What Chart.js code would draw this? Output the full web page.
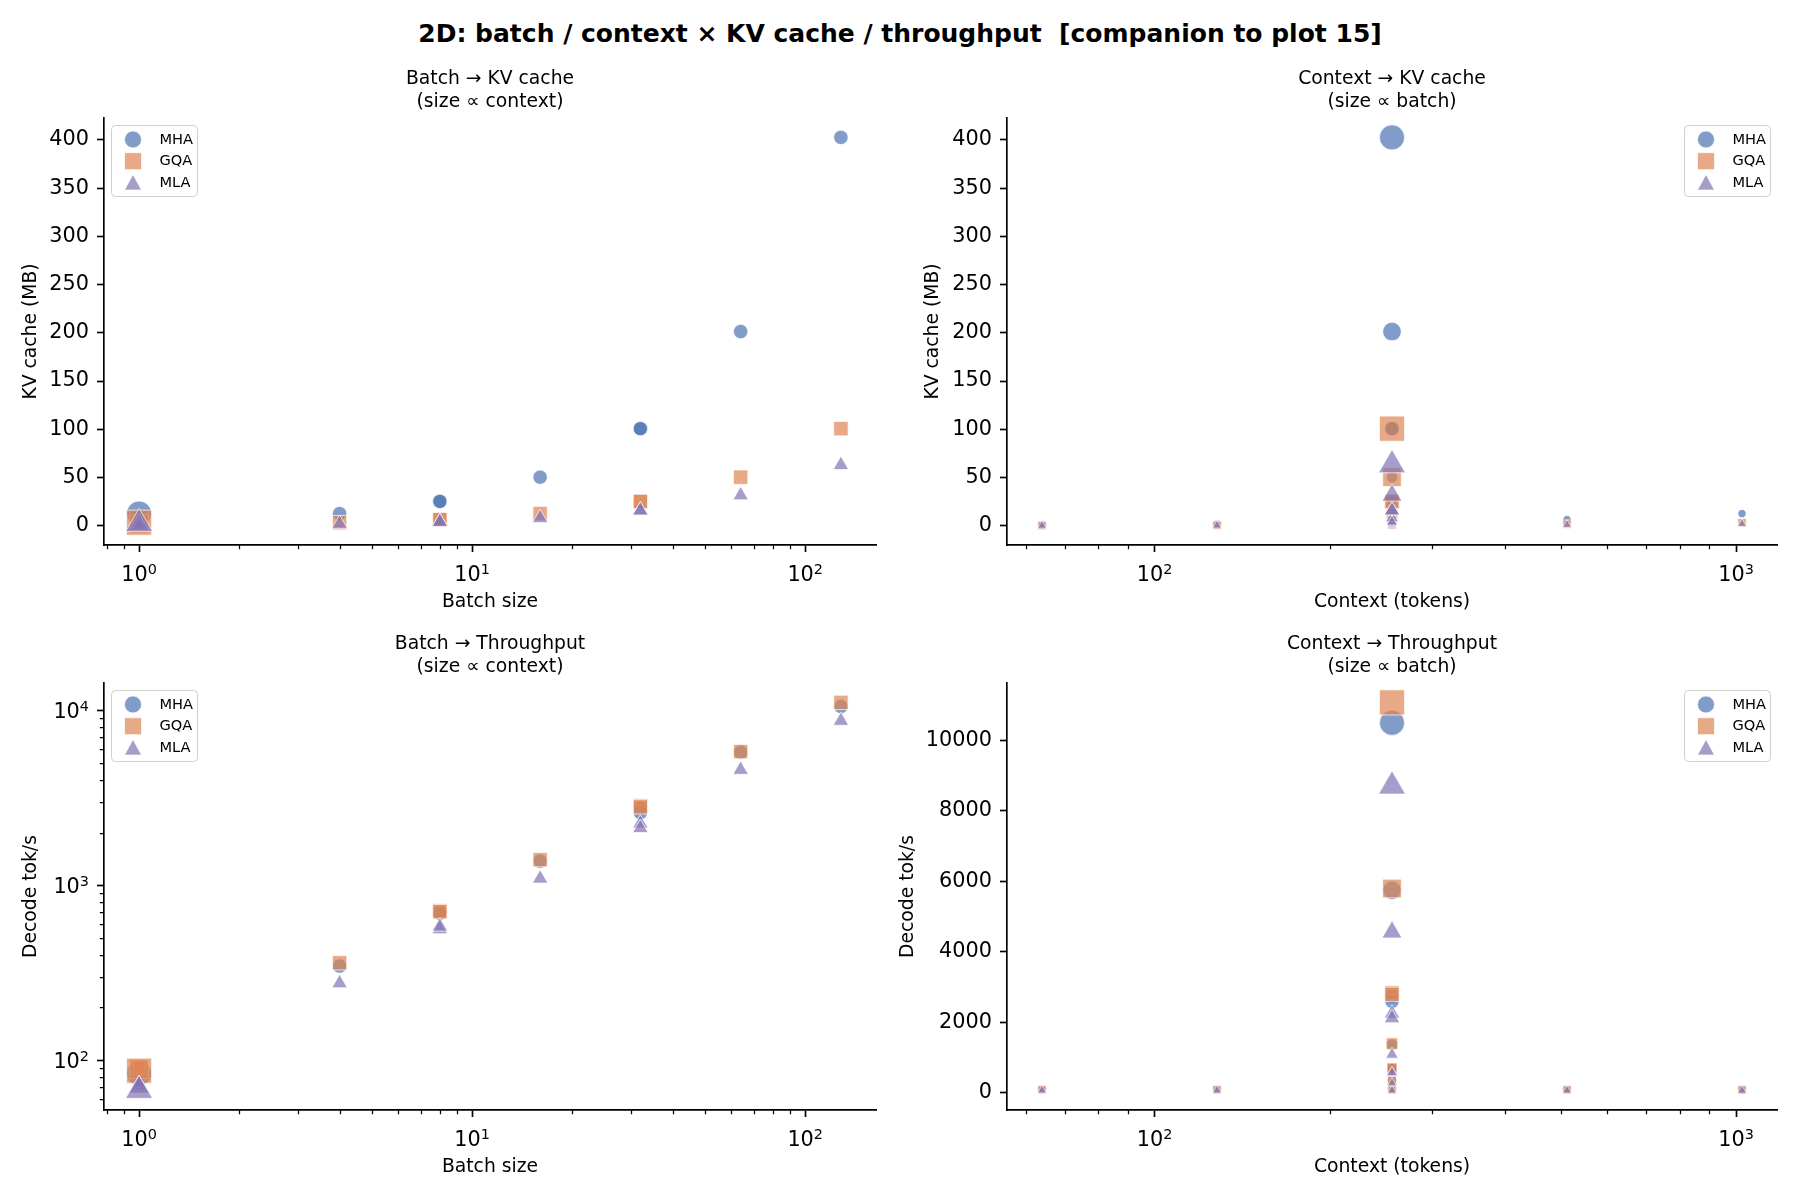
<!DOCTYPE html>
<html>
<head>
<meta charset="utf-8">
<title>2D: batch / context × KV cache / throughput</title>
<script src="https://cdn.jsdelivr.net/npm/chart.js@4.4.1/dist/chart.umd.min.js"></script>
<style>
	html, body { margin: 0; padding: 0; background: #fff; }
	body { width: 1800px; height: 1200px; position: relative; overflow: hidden; font-family: "DejaVu Sans", sans-serif; }
	#suptitle { position: absolute; left: 0; top: 19px; width: 1800px; text-align: center; font-weight: bold; font-size: 25px; line-height: 30px; white-space: pre; color: #000; }
	canvas { position: absolute; }
</style>
</head>
<body>
<div id="suptitle">2D: batch / context × KV cache / throughput  [companion to plot 15]</div>
<canvas id="kvBatch" width="900" height="555" style="left:0;top:60px"></canvas>
<canvas id="kvContext" width="900" height="555" style="left:900px;top:60px"></canvas>
<canvas id="tpBatch" width="900" height="555" style="left:0;top:625px"></canvas>
<canvas id="tpContext" width="920" height="555" style="left:880px;top:625px"></canvas>
<script>
// one run per row: batch sweep at ctx 256, context sweep at batch 1, then two repeat runs
const batchSizes = [1, 4, 8, 16, 32, 64, 128, 1, 1, 1, 1, 8, 32];
const contextLens = [256, 256, 256, 256, 256, 256, 256, 64, 128, 512, 1024, 256, 256];

// KV cache (MB)
const kvMHA = [3.15, 12.58, 25.17, 50.33, 100.66, 201.33, 402.65, 0.79, 1.57, 6.29, 12.58, 25.17, 100.66];
const kvGQA = [0.79, 3.15, 6.29, 12.58, 25.17, 50.33, 100.66, 0.2, 0.39, 1.57, 3.15, 6.29, 25.17];
const kvMLA = [0.49, 1.97, 3.93, 7.86, 15.73, 31.46, 62.91, 0.12, 0.25, 0.98, 1.97, 3.93, 15.73];

// decode throughput (tok/s)
const tpMHA = [88, 345, 700, 1370, 2750, 5750, 10500, 90, 89, 86, 84, 690, 2600];
const tpGQA = [90, 360, 715, 1400, 2840, 5800, 11080, 92, 91, 89, 87, 705, 2800];
const tpMLA = [72, 275, 560, 1090, 2250, 4560, 8700, 74, 73, 70, 67, 580, 2120];

const kvTicks = [0, 50, 100, 150, 200, 250, 300, 350, 400];
const tpLinTicks = [0, 2000, 4000, 6000, 8000, 10000];
const decadeTicks = [1, 10, 100, 1000, 10000];

const FONT = "DejaVu Sans";
const AXIS = "#000";

Chart.defaults.font.family = FONT;
Chart.defaults.color = "#000";

const variants = [
	{ label: "MHA", kv: kvMHA, tp: tpMHA, rgb: "76,114,176", style: "circle", order: 2 },
	{ label: "GQA", kv: kvGQA, tp: tpGQA, rgb: "221,132,82", style: "rect", order: 1 },
	{ label: "MLA", kv: kvMLA, tp: tpMLA, rgb: "129,114,179", style: "triangle", order: 0 },
];

const SUP = "⁰¹²³⁴⁵⁶⁷⁸⁹";
function powLabel(v) {
	const e = Math.round(Math.log10(v));
	return "10" + String(e).split("").map((c) => SUP[+c]).join("");
}

// matplotlib-like 5% margins
function padLinear(vals) {
	const lo = Math.min(...vals), hi = Math.max(...vals);
	const m = (hi - lo) * 0.05;
	return [lo - m, hi + m];
}
function padLog(vals) {
	const lo = Math.log10(Math.min(...vals)), hi = Math.log10(Math.max(...vals));
	const m = (hi - lo) * 0.05;
	return [Math.pow(10, lo - m), Math.pow(10, hi + m)];
}

// marker area s (pt^2) grows with the sizing variable, like the scatter's s=
function markerDiameter(v, vmax) {
	const s = 15 + 130 * v / vmax;
	return Math.sqrt(s) * 150 / 72;
}
function radiusFor(style, d) {
	if (style === "rect") return d / Math.SQRT2;
	if (style === "triangle") return d * 0.62;
	return d / 2;
}

function drawMarker(ctx, style, x, y, d, fill, stroke) {
	ctx.beginPath();
	if (style === "circle") {
		ctx.arc(x, y, d / 2, 0, Math.PI * 2);
	} else if (style === "rect") {
		ctx.rect(x - d / 2, y - d / 2, d, d);
	} else {
		ctx.moveTo(x, y - d / 2);
		ctx.lineTo(x + d / 2, y + d * 0.42);
		ctx.lineTo(x - d / 2, y + d * 0.42);
		ctx.closePath();
	}
	ctx.fillStyle = fill;
	ctx.fill();
	ctx.strokeStyle = stroke;
	ctx.lineWidth = 1;
	ctx.stroke();
}

const cornerLegend = {
	id: "cornerLegend",
	afterDatasetsDraw(chart, args, opts) {
		const { ctx, chartArea } = chart;
		const w = 86, h = 71;
		const x0 = opts.side === "right" ? chartArea.right - 7 - w : chartArea.left + 7;
		const y0 = chartArea.top + 7;
		ctx.save();
		ctx.beginPath();
		ctx.roundRect(x0 + 0.5, y0 + 0.5, w, h, 4);
		ctx.fillStyle = "rgba(255,255,255,0.8)";
		ctx.fill();
		ctx.strokeStyle = "#d0d0d0";
		ctx.lineWidth = 1;
		ctx.stroke();
		ctx.font = `14.6px "${FONT}"`;
		ctx.textBaseline = "middle";
		ctx.textAlign = "left";
		variants.forEach((v, i) => {
			const cy = y0 + 14.5 + i * 21.7;
			drawMarker(ctx, v.style, x0 + 22, cy, 17, `rgba(${v.rgb},0.7)`, "rgba(255,255,255,0.7)");
			ctx.fillStyle = "#000";
			ctx.fillText(v.label, x0 + 48.5, cy + 0.5);
		});
		ctx.restore();
	},
};

// minor ticks and mathtext-style 10^n labels for log axes
const logAxisDecor = {
	id: "logAxisDecor",
	afterDraw(chart) {
		const ctx = chart.ctx;
		ctx.save();
		ctx.strokeStyle = AXIS;
		ctx.lineWidth = 1.25;
		ctx.beginPath();
		Object.values(chart.scales).forEach((scale) => {
			if (scale.type !== "logarithmic") return;
			const lo = Math.floor(Math.log10(scale.min));
			const hi = Math.ceil(Math.log10(scale.max));
			for (let e = lo; e <= hi; e++) {
				for (let k = 2; k <= 9; k++) {
					const v = k * Math.pow(10, e);
					if (v < scale.min || v > scale.max) continue;
					const p = Math.round(scale.getPixelForValue(v)) + 0.5;
					if (scale.isHorizontal()) {
						ctx.moveTo(p, scale.top);
						ctx.lineTo(p, scale.top + 4.2);
					} else {
						ctx.moveTo(scale.right, p);
						ctx.lineTo(scale.right - 4.2, p);
					}
				}
			}
		});
		ctx.stroke();

		ctx.fillStyle = "#000";
		ctx.textBaseline = "alphabetic";
		ctx.textAlign = "left";
		const big = `20.8px "${FONT}"`, small = `14.4px "${FONT}"`;
		Object.values(chart.scales).forEach((scale) => {
			if (scale.type !== "logarithmic") return;
			scale.ticks.forEach((t) => {
				const exp = String(Math.round(Math.log10(t.value)));
				ctx.font = big;
				const wBase = ctx.measureText("10").width;
				ctx.font = small;
				const wExp = ctx.measureText(exp).width;
				const total = wBase + wExp;
				const p = scale.getPixelForValue(t.value);
				let x, base;
				if (scale.isHorizontal()) {
					x = p - total / 2;
					base = scale.top + 36;
				} else {
					x = scale.right - 15 - total;
					base = p + 7.5;
				}
				ctx.font = big;
				ctx.fillText("10", x, base);
				ctx.font = small;
				ctx.fillText(exp, x + wBase, base - 7);
			});
		});
		ctx.restore();
	},
};

function axisCommon() {
	return {
		grid: { display: true, drawOnChartArea: false, drawTicks: true, tickLength: 7, tickWidth: 1.67, tickColor: AXIS },
		border: { display: true, color: AXIS, width: 1.67 },
	};
}

function makePanel(id, cfg) {
	const xVals = cfg.xKey === "batch" ? batchSizes : contextLens;
	const sVals = cfg.sizeKey === "batch" ? batchSizes : contextLens;
	const sMax = Math.max(...sVals);
	const allY = [].concat(...variants.map((v) => v[cfg.yKey]));
	const [xMin, xMax] = padLog(xVals);
	const [yMin, yMax] = cfg.yLog ? padLog(allY) : padLinear(allY);

	const datasets = variants.map((v) => ({
		label: v.label,
		order: v.order,
		data: xVals.map((x, i) => ({ x, y: v[cfg.yKey][i], s: sVals[i] })),
		pointStyle: v.style,
		pointRadius: (c) => radiusFor(v.style, markerDiameter(c.raw.s, sMax)),
		pointBackgroundColor: `rgba(${v.rgb},0.7)`,
		pointBorderColor: "rgba(255,255,255,0.7)",
		pointBorderWidth: 1,
	}));

	const xTickVals = decadeTicks.filter((t) => t >= xMin && t <= xMax);
	const yTickVals = cfg.yLog ? decadeTicks.filter((t) => t >= yMin && t <= yMax) : cfg.yTicks;
	const hidden = "rgba(0,0,0,0)";

	return new Chart(document.getElementById(id), {
		type: "scatter",
		data: { datasets },
		plugins: [cornerLegend, logAxisDecor],
		options: {
			responsive: false,
			animation: false,
			events: [],
			devicePixelRatio: 1,
			layout: { padding: { left: 0, right: cfg.padRight, top: 0, bottom: 0 } },
			plugins: {
				legend: { display: false },
				tooltip: { enabled: false },
				title: {
					display: true,
					text: cfg.title,
					fullSize: false,
					color: "#000",
					font: { size: 18.75, weight: "normal", lineHeight: 1.2 },
					padding: { top: 8, bottom: 5 },
				},
				cornerLegend: { side: cfg.legendSide },
			},
			scales: {
				x: {
					type: "logarithmic",
					min: xMin,
					max: xMax,
					bounds: "data",
					...axisCommon(),
					afterBuildTicks: (scale) => { scale.ticks = xTickVals.map((value) => ({ value })); },
					afterFit: (scale) => { scale.height = 70; },
					ticks: { autoSkip: false, maxRotation: 0, padding: 8, font: { size: 20.8 }, color: hidden, callback: (v) => powLabel(v) },
					title: { display: true, text: cfg.xTitle, color: "#000", font: { size: 18.75 }, padding: { top: 0, bottom: 1.5 } },
				},
				y: {
					type: cfg.yLog ? "logarithmic" : "linear",
					min: yMin,
					max: yMax,
					bounds: "data",
					...axisCommon(),
					afterBuildTicks: (scale) => { scale.ticks = yTickVals.map((value) => ({ value })); },
					afterFit: (scale) => { scale.width = cfg.yAxisWidth; },
					ticks: { autoSkip: false, padding: 8, font: { size: 20.8 }, color: cfg.yLog ? hidden : "#000", callback: (v) => (cfg.yLog ? powLabel(v) : String(v)) },
					title: { display: true, text: cfg.yTitle, color: "#000", font: { size: 18.75 }, padding: { top: cfg.yTitlePad, bottom: 0 } },
				},
			},
		},
	});
}

makePanel("kvBatch", {
	xKey: "batch", yKey: "kv", sizeKey: "context", yLog: false, yTicks: kvTicks,
	title: ["Batch → KV cache", "(size ∝ context)"], xTitle: "Batch size", yTitle: "KV cache (MB)",
	yAxisWidth: 104, padRight: 24, yTitlePad: 19.75, legendSide: "left",
});
makePanel("kvContext", {
	xKey: "context", yKey: "kv", sizeKey: "batch", yLog: false, yTicks: kvTicks,
	title: ["Context → KV cache", "(size ∝ batch)"], xTitle: "Context (tokens)", yTitle: "KV cache (MB)",
	yAxisWidth: 107, padRight: 23, yTitlePad: 21.75, legendSide: "right",
});
makePanel("tpBatch", {
	xKey: "batch", yKey: "tp", sizeKey: "context", yLog: true,
	title: ["Batch → Throughput", "(size ∝ context)"], xTitle: "Batch size", yTitle: "Decode tok/s",
	yAxisWidth: 104, padRight: 24, yTitlePad: 19.75, legendSide: "left",
});
makePanel("tpContext", {
	xKey: "context", yKey: "tp", sizeKey: "batch", yLog: false, yTicks: tpLinTicks,
	title: ["Context → Throughput", "(size ∝ batch)"], xTitle: "Context (tokens)", yTitle: "Decode tok/s",
	yAxisWidth: 127, padRight: 23, yTitlePad: 16.5, legendSide: "right",
});
</script>
</body>
</html>
